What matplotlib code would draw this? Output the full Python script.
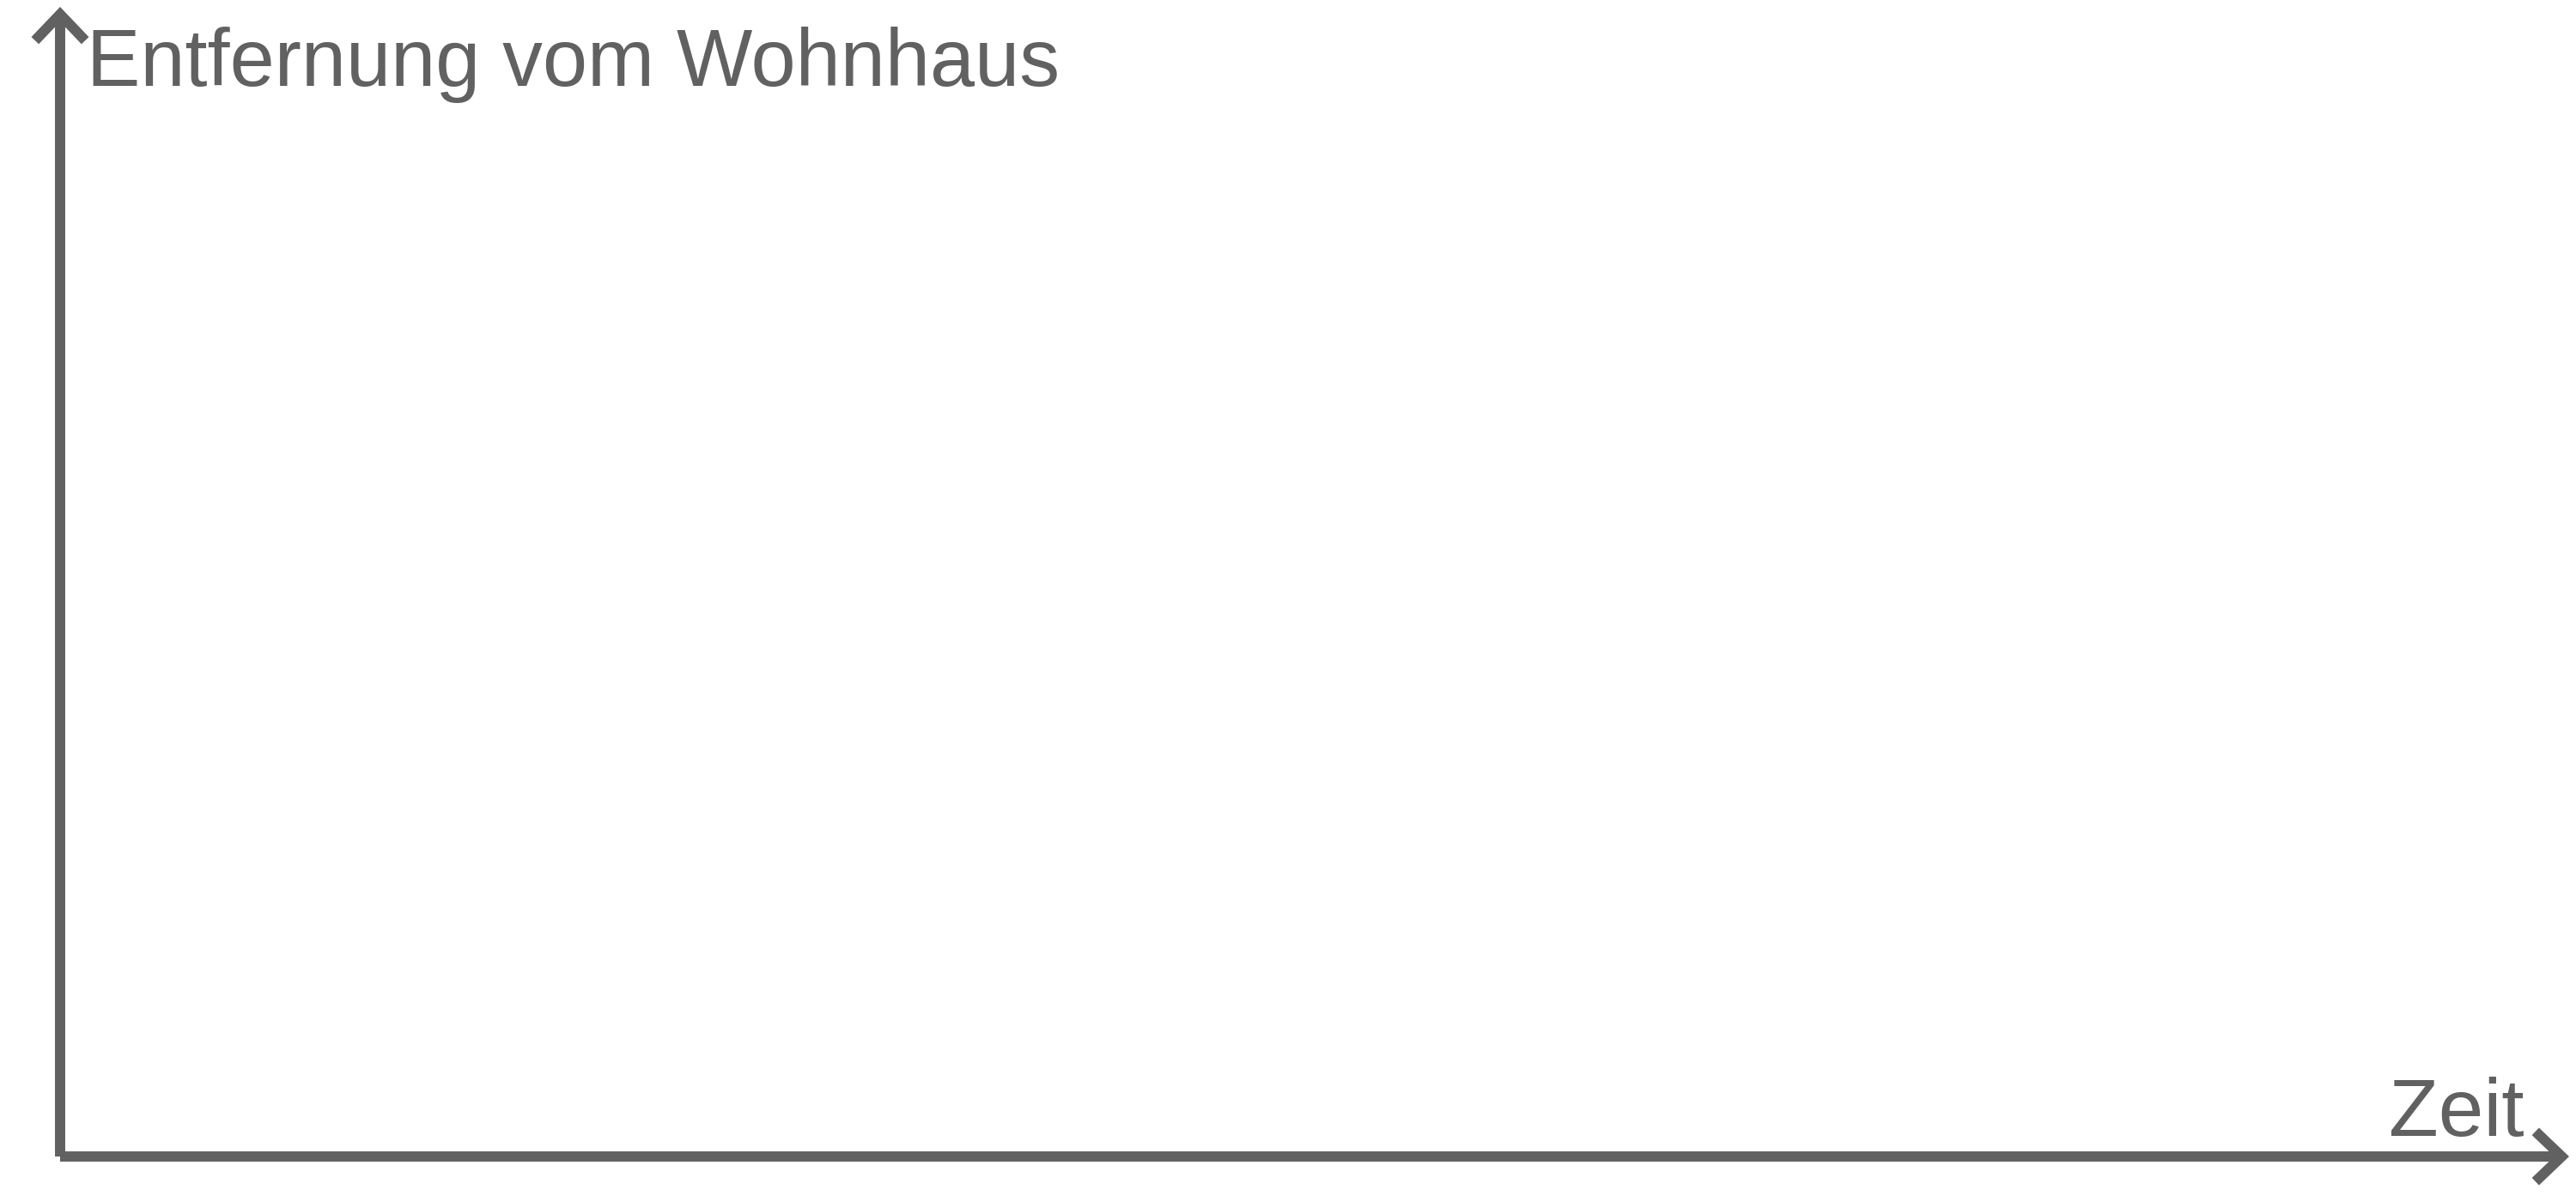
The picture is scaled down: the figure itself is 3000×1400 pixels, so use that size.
import matplotlib
matplotlib.use("Agg")
import matplotlib.pyplot as plt

# labels of the empty sketch diagram
y_label = "Entfernung vom Wohnhaus"
x_label = "Zeit"

grey = "#616161"
plt.rcParams['font.family'] = ['Liberation Sans', 'DejaVu Sans']

fig = plt.figure(figsize=(30, 14), dpi=100)
# axes box runs from the origin to both arrow tips
ax = fig.add_axes([70 / 3000, 53 / 1400, 2922 / 3000, 1339 / 1400])
ax.set_xlim(0, 1)
ax.set_ylim(0, 1)
ax.axis("off")

arrow = dict(arrowstyle="->,head_length=22,head_width=21", mutation_scale=1,
             color=grey, lw=8.6, shrinkA=0, shrinkB=0,
             joinstyle="miter", capstyle="butt")
ax.annotate("", xy=(1, 0), xytext=(0, 0), xycoords="axes fraction",
            arrowprops=arrow)
ax.annotate("", xy=(0, 1), xytext=(0, 0), xycoords="axes fraction",
            arrowprops=arrow)

ax.text(0.0105, 0.931, y_label, transform=ax.transAxes, fontsize=67.4,
        color=grey, ha="left", va="baseline")
ax.text(0.982, 0.018, x_label, transform=ax.transAxes, fontsize=68,
        color=grey, ha="right", va="baseline")

fig.savefig("out.png", dpi=100, facecolor="white")
